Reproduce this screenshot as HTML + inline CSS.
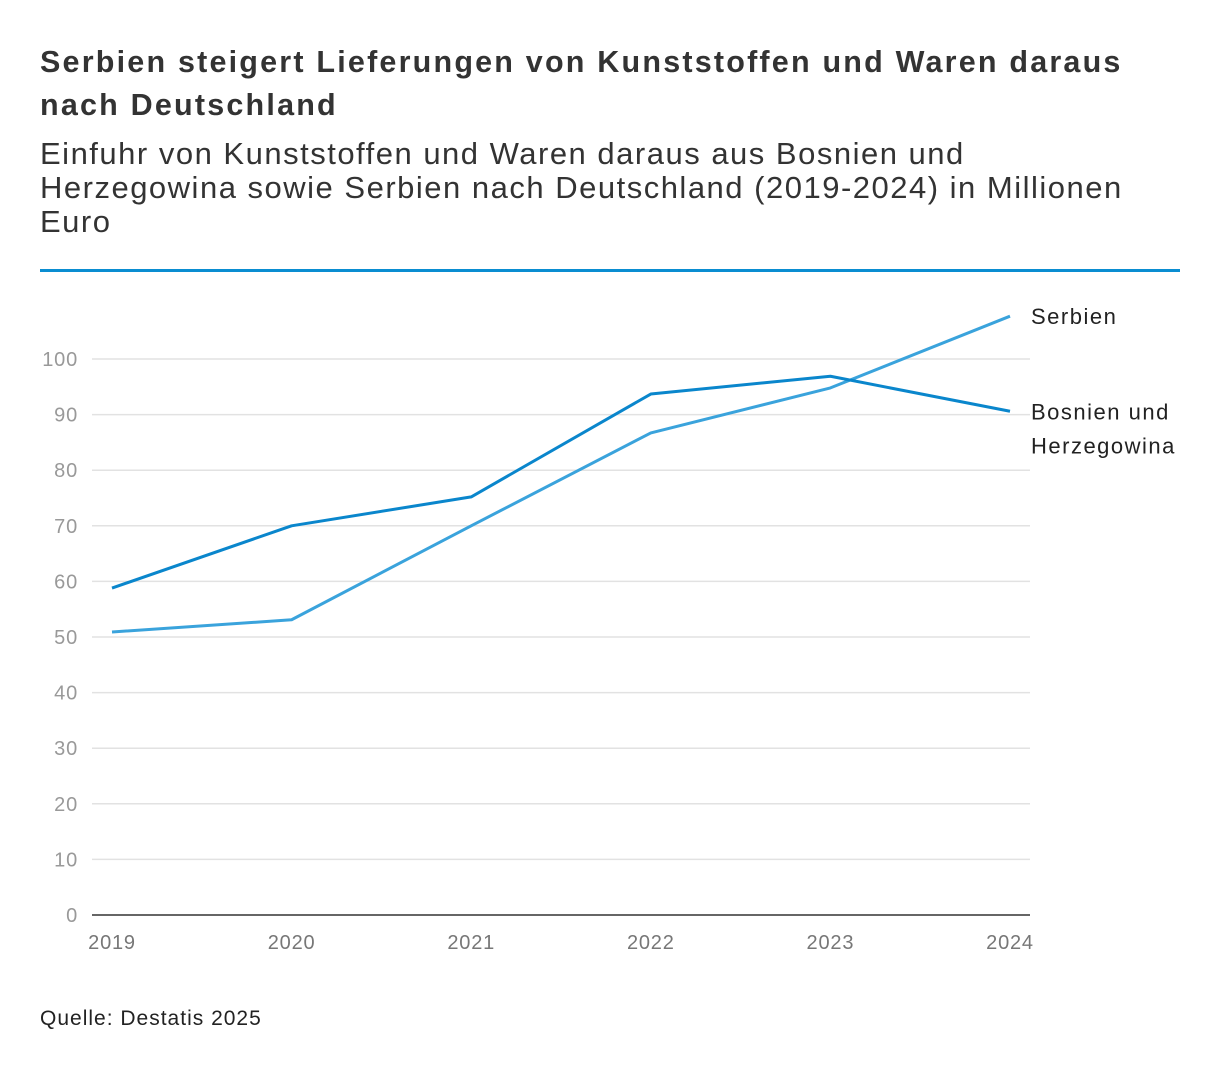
<!DOCTYPE html>
<html><head><meta charset="utf-8"><style>
body{margin:0;background:#fff;width:1220px;height:1074px;overflow:hidden;font-family:"Liberation Sans",sans-serif;}
#title{position:absolute;left:40px;top:41px;width:1170px;font-size:30.5px;letter-spacing:2.2px;font-weight:bold;color:#333;line-height:43px;white-space:nowrap;}
#sub{position:absolute;left:40px;top:137px;width:1170px;font-size:31px;letter-spacing:1.5px;color:#333;line-height:34px;white-space:nowrap;}
#rule{position:absolute;left:40px;top:269px;width:1140px;height:3px;background:#0a8dd1;}
#src{position:absolute;left:40px;top:1007px;font-size:21px;letter-spacing:1px;color:#222;}
svg{position:absolute;left:0;top:0;}
</style></head><body>
<div id="title">Serbien steigert Lieferungen von Kunststoffen und Waren daraus<br>nach Deutschland</div>
<div id="sub">Einfuhr von Kunststoffen und Waren daraus aus Bosnien und<br>Herzegowina sowie Serbien nach Deutschland (2019-2024) in Millionen<br>Euro</div>
<div id="rule"></div>
<svg id="chart" width="1220" height="1074"></svg>
<div id="src">Quelle: Destatis 2025</div>
<script>
const years=["2019","2020","2021","2022","2023","2024"];
const bosnia=[58.8,70,75.2,93.7,96.9,90.6];
const serbia=[50.9,53.1,70,86.7,94.8,107.7];
const yTicks=[0,10,20,30,40,50,60,70,80,90,100];
const NS="http://www.w3.org/2000/svg";
const svg=document.getElementById('chart');
const x=i=>112+i*(1010-112)/5;
const y=v=>915-v*5.56;
function mk(t,a){const e=document.createElementNS(NS,t);for(const k in a)e.setAttribute(k,a[k]);svg.appendChild(e);return e;}
yTicks.forEach(v=>{
  if(v>0){const l=mk('line',{x1:92,x2:1030,y1:y(v),y2:y(v),stroke:'#e2e2e2','stroke-width':1.5});
  
  }
  const t=mk('text',{x:78,y:y(v)+7,'text-anchor':'end','font-size':20,'letter-spacing':0.8,fill:'#999','font-family':'Liberation Sans, sans-serif'});
  t.textContent=v;
  
  
});
const ax=mk('line',{x1:92,x2:1030,y1:915,y2:915,stroke:'#333','stroke-width':1.5});


years.forEach((yr,i)=>{
  const t=mk('text',{x:x(i),y:949,'text-anchor':'middle','font-size':20,'letter-spacing':0.8,fill:'#777','font-family':'Liberation Sans, sans-serif'});
  t.textContent=yr;
  
  
});
function series(d,c,name){
  const p=mk('polyline',{points:d.map((v,i)=>x(i)+','+y(v)).join(' '),fill:'none',stroke:c,'stroke-width':3,'stroke-linejoin':'round'});
  
  
}
series(serbia,'#3aa3dc','serbien-line');
series(bosnia,'#0a86cc','bosnien-line');
function lab(txt,yy,name){
  const t=mk('text',{x:1031,y:yy,'font-size':22,'letter-spacing':1.5,fill:'#222','font-family':'Liberation Sans, sans-serif'});
  t.textContent=txt;
  
  
}
lab('Serbien',y(serbia[5])+8,'serbien-label');
lab('Bosnien und',y(bosnia[5])+8,'bosnien-label');
lab('Herzegowina',y(bosnia[5])+42,'bosnien-label-line2');
</script>
</body></html>
